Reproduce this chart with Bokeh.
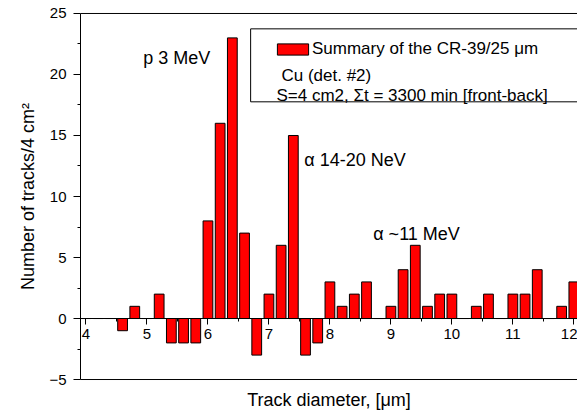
from bokeh.plotting import figure
from bokeh.models import (LinearAxis, FixedTicker, Range1d, Label, BoxAnnotation,
                          Legend, LegendItem, ColumnDataSource)
from bokeh.embed import file_html
from bokeh.resources import INLINE

# ---- data -------------------------------------------------------------
diameter = [4.0, 4.2, 4.4, 4.6, 4.8, 5.0, 5.2, 5.4, 5.6, 5.8,
            6.0, 6.2, 6.4, 6.6, 6.8, 7.0, 7.2, 7.4, 7.6, 7.8,
            8.0, 8.2, 8.4, 8.6, 8.8, 9.0, 9.2, 9.4, 9.6, 9.8,
            10.0, 10.2, 10.4, 10.6, 10.8, 11.0, 11.2, 11.4, 11.6, 11.8, 12.0]
tracks = [0, 0, 0, -1, 1, 0, 2, -2, -2, -2,
          8, 16, 23, 7, -3, 2, 6, 15, -3, -2,
          3, 1, 2, 3, 0, 1, 4, 6, 1, 2,
          2, 0, 1, 2, 0, 2, 2, 4, 0, 1, 3]

x_ticks = [4, 5, 6, 7, 8, 9, 10, 11, 12]
x_minor = [4.5, 5.5, 6.5, 7.5, 8.5, 9.5, 10.5, 11.5]
y_ticks = [-5, 0, 5, 10, 15, 20, 25]
y_minor = [-2.5, 2.5, 7.5, 12.5, 17.5, 22.5]

legend_lines = ["Summary of the CR-39/25 \u03bcm", "Cu (det. #2)",
                "S=4 cm2, \u03a3t = 3300 min [front-back]"]
x_title = "Track diameter, [\u03bcm]"
y_title = "Number of tracks/4 cm\u00b2"

FONT = "Liberation Sans"
Y_MIN, Y_MAX = -5, 25
X_MIN, X_MAX = 3.91, 12.06

p = figure(width=577, height=416, output_backend="svg", toolbar_location=None,
           x_range=Range1d(X_MIN, X_MAX), y_range=Range1d(Y_MIN - 0.08, Y_MAX + 0.08),
           x_axis_location=None, y_axis_location=None,
           min_border_left=80, min_border_right=0, min_border_top=12,
           min_border_bottom=36)
p.outline_line_color = None
p.grid.visible = False
p.background_fill_color = "white"
p.border_fill_color = "white"

# ---- frame (drawn beneath the bars; right edge lies beyond the canvas) ----
p.add_layout(BoxAnnotation(left=X_MIN, right=X_MAX + 0.5, top=Y_MAX, bottom=Y_MIN,
                           fill_alpha=0, line_color="black", line_alpha=1.0,
                           line_width=1, level="underlay"))

# ---- bars ------------------------------------------------------------
src = ColumnDataSource(dict(x=diameter, top=tracks))
bars = p.vbar(x="x", top="top", bottom=0, width=0.16, source=src,
              fill_color="#FF0000", line_color="black", line_width=1)

# ---- axes -------------------------------------------------------------
def style_axis(ax):
    ax.axis_line_color = "black"
    ax.axis_line_width = 1
    ax.major_tick_line_color = "black"
    ax.minor_tick_line_color = "black"
    ax.major_tick_in = 0
    ax.minor_tick_in = 0
    ax.major_label_text_font = FONT
    ax.major_label_text_font_size = "15px"
    ax.major_label_text_color = "black"
    ax.axis_label_text_font = FONT
    ax.axis_label_text_font_size = "18px"
    ax.axis_label_text_font_style = "normal"
    ax.axis_label_text_color = "black"

yaxis = LinearAxis(ticker=FixedTicker(ticks=y_ticks, minor_ticks=y_minor),
                   axis_label=y_title, bounds=(Y_MIN, Y_MAX))
style_axis(yaxis)
yaxis.major_tick_out = 7
yaxis.minor_tick_out = 3
yaxis.major_label_standoff = 7
yaxis.axis_label_standoff = 8
p.add_layout(yaxis, "left")

bottom_frame = LinearAxis(ticker=FixedTicker(ticks=[]), axis_label=x_title)
style_axis(bottom_frame)
bottom_frame.axis_line_color = None
bottom_frame.major_label_text_font_size = "0px"
bottom_frame.major_tick_out = 0
bottom_frame.minor_tick_out = 0
bottom_frame.axis_label_standoff = 9
p.add_layout(bottom_frame, "below")

xaxis = LinearAxis(ticker=FixedTicker(ticks=x_ticks, minor_ticks=x_minor),
                   fixed_location=0)
style_axis(xaxis)
xaxis.major_tick_out = 6
xaxis.minor_tick_out = 3
xaxis.major_label_standoff = 4
p.add_layout(xaxis, "below")

# ---- legend box -------------------------------------------------------
box = BoxAnnotation(left=6.70, right=12.6, top=23.74, bottom=17.76,
                    fill_color="white", fill_alpha=1.0, line_color="black",
                    line_alpha=1.0, line_width=1, level="annotation")
p.add_layout(box)

legend = Legend(items=[LegendItem(label=legend_lines[0], renderers=[bars])],
                location=(193, 321), padding=0, margin=0, spacing=0,
                border_line_color=None, background_fill_alpha=0,
                glyph_width=39, glyph_height=14, label_standoff=-3,
                label_text_font=FONT, label_text_font_size="17px",
                label_text_color="black")
p.add_layout(legend)

for txt, lx, ly in [(legend_lines[1], 7.205, 19.93), (legend_lines[2], 7.123, 18.25)]:
    p.add_layout(Label(x=lx, y=ly, text=txt, text_font=FONT, text_font_size="17px",
                       text_baseline="alphabetic", text_color="black"))

# ---- peak annotations ---------------------------------------------------
for txt, lx, ly in [("p 3 MeV", 4.94, 21.39),
                    ("\u03b1 14-20 NeV", 7.58, 13.0),
                    ("\u03b1  ~11 MeV", 8.71, 6.95)]:
    p.add_layout(Label(x=lx, y=ly, text=txt, text_font=FONT, text_font_size="18px",
                       text_baseline="alphabetic", text_color="black"))

open("out.html", "w").write(file_html(p, INLINE))
